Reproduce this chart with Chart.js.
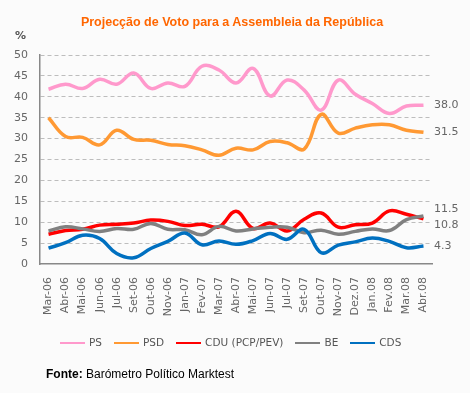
<!DOCTYPE html>
<html>
<head>
<meta charset="utf-8">
<script src="https://cdn.jsdelivr.net/npm/chart.js"></script>
<style>
  body { margin: 0; background: #fbfbfb; }
  #wrap { position: relative; width: 470px; height: 393px; overflow: hidden; }
  #chart { position: absolute; left: 0; top: 0; }
  .title { position: absolute; left: 0; width: 464px; top: 15px; text-align: center;
    font: bold 12.5px "Liberation Sans", sans-serif; color: #ff6600; line-height: 15px; }
  .unit { position: absolute; left: 15px; top: 29px; font: bold 11px "DejaVu Sans", sans-serif; color: #555; line-height: 13px; }
  .legend { position: absolute; left: 60px; top: 336px; display: flex; gap: 12px;
    font: 10.5px "DejaVu Sans", sans-serif; color: #555; line-height: 13px; }
  .legend span { display: flex; align-items: center; }
  .legend i { display: inline-block; width: 25px; height: 2px; margin-right: 4px; }
  .source { position: absolute; left: 46px; top: 367px; font: 12px "Liberation Sans", sans-serif; color: #000; line-height: 14px; }
</style>
</head>
<body>
<div id="wrap">
  <canvas id="chart" width="470" height="393"></canvas>
  <div class="title">Projecção de Voto para a Assembleia da República</div>
  <div class="unit">%</div>
  <div class="legend" id="legend"></div>
  <div class="source"><b>Fonte:</b> Barómetro Político Marktest</div>
</div>
<script>
const months = ['Mar-06', 'Abr-06', 'Mai-06', 'Jun-06', 'Jul-06', 'Set-06', 'Out-06', 'Nov-06',
  'Jan-07', 'Fev-07', 'Mar-07', 'Abr-07', 'Mai-07', 'Jun-07', 'Jul-07', 'Set-07', 'Out-07',
  'Nov-07', 'Dez.07', 'Jan.08', 'Fev.08', 'Mar.08', 'Abr.08'];

const ps  = [41.8, 43.0, 42.0, 44.2, 43.0, 45.7, 42.0, 43.3, 42.5, 47.3, 46.4, 43.3, 46.8, 40.2, 44.0, 41.6, 36.8, 44.0, 40.6, 38.4, 36.0, 37.8, 38.0];
const psd = [35.0, 30.5, 30.3, 28.5, 32.0, 29.8, 29.6, 28.6, 28.3, 27.3, 26.0, 27.7, 27.3, 29.3, 29.0, 27.5, 35.8, 31.3, 32.5, 33.3, 33.3, 32.0, 31.5];
const cdu = [7.1, 8.0, 8.3, 9.3, 9.5, 9.8, 10.5, 10.2, 9.2, 9.5, 8.9, 12.6, 8.5, 9.8, 7.9, 10.7, 12.2, 8.8, 9.4, 9.8, 12.7, 11.9, 10.8];
const be  = [7.9, 8.9, 8.4, 7.8, 8.5, 8.3, 9.7, 8.3, 8.2, 7.0, 9.0, 7.9, 8.4, 8.8, 8.8, 7.5, 8.1, 7.1, 7.8, 8.4, 8.0, 10.6, 11.5];
const cds = [3.8, 5.1, 6.9, 6.1, 2.5, 1.5, 3.7, 5.4, 7.4, 4.6, 5.5, 4.7, 5.6, 7.3, 5.9, 8.3, 2.7, 4.5, 5.3, 6.2, 5.4, 3.9, 4.3];

const parties = ['PS', 'PSD', 'CDU (PCP/PEV)', 'BE', 'CDS'];
const colors = ['#ff99cc', '#ff9933', '#ff0000', '#808080', '#0070c0'];
const series = [ps, psd, cdu, be, cds];

const tickFont = { family: 'DejaVu Sans', size: 11 };

// labels with the last value at the right end of each line
const endLabels = {
  id: 'endLabels',
  afterDatasetsDraw(chart) {
    const { ctx, chartArea, scales: { y } } = chart;
    const items = chart.data.datasets.map(ds => {
      const v = ds.data[ds.data.length - 1];
      return { text: v.toFixed(1), y: y.getPixelForValue(v) };
    }).sort((a, b) => a.y - b.y);
    for (let i = 1; i < items.length; i++) {
      const gap = items[i].y - items[i - 1].y;
      if (gap < 16) {
        const d = (16 - gap) / 2;
        items[i - 1].y -= d;
        items[i].y += d;
      }
    }
    ctx.save();
    ctx.font = '11px "DejaVu Sans"';
    ctx.fillStyle = '#666';
    ctx.textAlign = 'left';
    ctx.textBaseline = 'middle';
    items.forEach(it => ctx.fillText(it.text, chartArea.right + 2, it.y));
    ctx.restore();
  }
};

// order: CDS ends up drawn on top
const datasets = series.map((d, i) => ({
  label: parties[i],
  data: d,
  borderColor: colors[i],
  backgroundColor: colors[i],
  borderWidth: 3.5,
  pointRadius: 0,
  tension: 0.4,
  fill: false,
  order: series.length - i
}));

new Chart(document.getElementById('chart'), {
  type: 'line',
  data: { labels: months, datasets: datasets },
  options: {
    responsive: false,
    animation: false,
    devicePixelRatio: 1,
    layout: { padding: { left: 0, right: 38, top: 55, bottom: 69 } },
    plugins: { legend: { display: false }, tooltip: { enabled: false } },
    scales: {
      x: {
        offset: true,
        grid: { display: false, drawTicks: false },
        border: { color: '#888', width: 1.5 },
        ticks: { color: '#666', font: tickFont, minRotation: 90, maxRotation: 90, padding: 13, autoSkip: false },
        afterFit: s => { s.height = 60; }
      },
      y: {
        min: 0,
        max: 50,
        grid: {
          drawTicks: false,
          color: c => c.tick.value === 0 ? 'transparent' : '#bdbdbd',
          lineWidth: 1
        },
        border: { color: '#888', width: 1.5, dash: [4, 3] },
        ticks: { stepSize: 5, color: '#666', font: tickFont, padding: 12 },
        afterFit: s => { s.width = 40; }
      }
    }
  },
  plugins: [endLabels]
});

const legend = document.getElementById('legend');
parties.forEach((p, i) => {
  legend.innerHTML += `<span><i style="background:${colors[i]}"></i>${p}</span>`;
});
</script>
</body>
</html>
